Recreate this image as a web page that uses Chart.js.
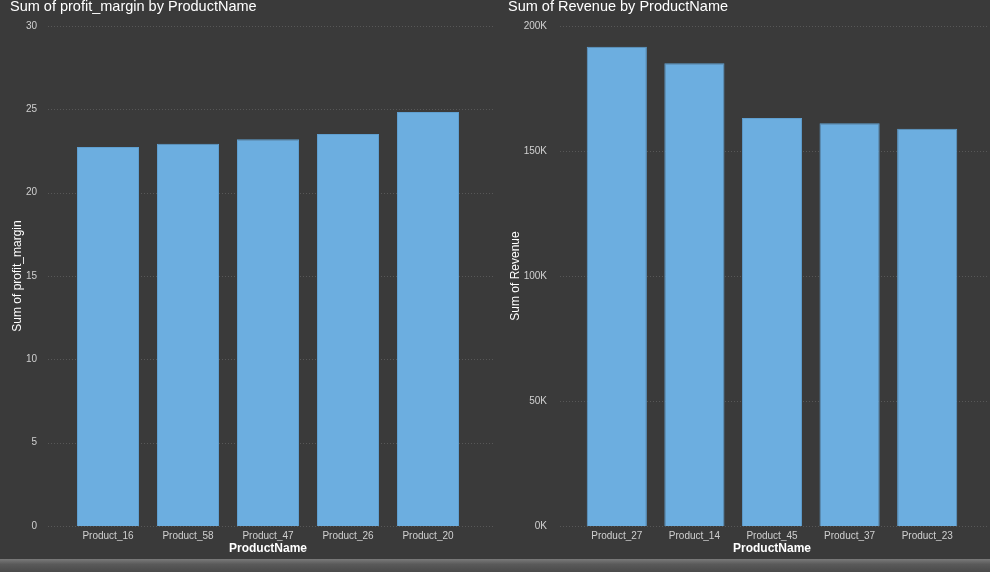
<!DOCTYPE html>
<html>
<head>
  <meta charset="UTF-8">
  <title>Profit margin and revenue by product</title>
  <script src="https://cdn.jsdelivr.net/npm/chart.js@4"></script>
  <style>
    html, body { margin: 0; padding: 0; background: #3a3a3a; overflow: hidden; }
    body { width: 990px; height: 572px; position: relative; font-family: "Liberation Sans", Arial, sans-serif; }
    .box { position: absolute; top: -11px; width: 495px; height: 574px; }
    #leftBox { left: 0; }
    #rightBox { left: 495px; }
    .bottomBar { position: absolute; left: 0; top: 559px; width: 990px; height: 13px;
      background: linear-gradient(#7a7a7a, #5a5a5a 40%, #4a4a4a); }
  </style>
</head>
<body>
  <div class="box" id="leftBox"><canvas id="marginChart"></canvas></div>
  <div class="box" id="rightBox"><canvas id="revenueChart"></canvas></div>
  <div class="bottomBar"></div>

<script>
// data
const marginProducts = ['Product_16', 'Product_58', 'Product_47', 'Product_26', 'Product_20'];
const marginValues = [22.74, 22.93, 23.2, 23.52, 24.84];

const revenueProducts = ['Product_27', 'Product_14', 'Product_45', 'Product_37', 'Product_23'];
const revenueValues = [191700, 185100, 163200, 161100, 158900];

const marginTicks = [0, 5, 10, 15, 20, 25, 30];
const revenueTicks = [0, 50000, 100000, 150000, 200000];

const barColor = '#6caee0';
const textColor = '#d0d0d0';

// dotted grid lines that run a bit wider than the bar area, like the original
const wideGrid = {
  id: 'wideGrid',
  beforeDatasetsDraw(chart, args, opts) {
    const y = chart.scales.y;
    const ctx = chart.ctx;
    ctx.save();
    ctx.strokeStyle = '#575757';
    ctx.lineWidth = 1;
    ctx.setLineDash([1, 2]);
    y.ticks.forEach((t, i) => {
      const py = Math.round(y.getPixelForTick(i)) + 0.5;
      ctx.beginPath();
      ctx.moveTo(chart.chartArea.left - opts.extendLeft, py);
      ctx.lineTo(chart.chartArea.right + opts.extendRight, py);
      ctx.stroke();
    });
    ctx.restore();
  }
};

function makeChart(id, title, labels, values, yTitle, yMax, yStep, fmt, padLeft, padRight, axisWidth, extL, extR) {
  return new Chart(document.getElementById(id), {
    type: 'bar',
    data: {
      labels: labels,
      datasets: [{
        data: values,
        backgroundColor: barColor,
        borderColor: '#5f9fd0',
        borderWidth: 1,
        barPercentage: 0.775,
        categoryPercentage: 1
      }]
    },
    plugins: [wideGrid],
    options: {
      responsive: true,
      maintainAspectRatio: false,
      animation: false,
      layout: { padding: { left: padLeft, right: padRight, top: 0, bottom: 0 } },
      plugins: {
        legend: { display: false },
        tooltip: { enabled: false },
        wideGrid: { extendLeft: extL, extendRight: extR },
        title: {
          display: true,
          text: title,
          align: 'start',
          color: '#ffffff',
          font: { family: 'Liberation Sans', size: 14.5, weight: 'normal' },
          padding: { top: 0, bottom: 10 }
        }
      },
      scales: {
        x: {
          grid: { display: false, drawTicks: false },
          border: { display: false },
          ticks: { color: textColor, font: { family: 'Liberation Sans', size: 10 }, padding: 4, maxRotation: 0 },
          title: {
            display: true, text: 'ProductName', color: '#ffffff',
            font: { family: 'Liberation Sans', size: 12, weight: 'bold' },
            padding: { top: 0, bottom: 4 }
          },
          afterFit: s => { s.height = 34; }
        },
        y: {
          min: 0, max: yMax,
          grid: { display: false, drawTicks: false },
          border: { display: false },
          ticks: {
            stepSize: yStep, color: textColor, padding: 31,
            font: { family: 'Liberation Sans', size: 10 },
            callback: fmt
          },
          title: {
            display: true, text: yTitle, color: '#ffffff',
            font: { family: 'Liberation Sans', size: 12 },
            padding: 0
          },
          afterFit: s => { s.width = axisWidth; }
        }
      }
    }
  });
}

makeChart('marginChart', 'Sum of profit_margin by ProductName', marginProducts, marginValues,
  'Sum of profit_margin', marginTicks[marginTicks.length - 1], marginTicks[1] - marginTicks[0],
  v => v, 10, 27, 58, 20, 25);

makeChart('revenueChart', 'Sum of Revenue by ProductName', revenueProducts, revenueValues,
  'Sum of Revenue', revenueTicks[revenueTicks.length - 1], revenueTicks[1] - revenueTicks[0],
  v => (v / 1000) + 'K', 13, 24, 70, 18, 22);
</script>
</body>
</html>
